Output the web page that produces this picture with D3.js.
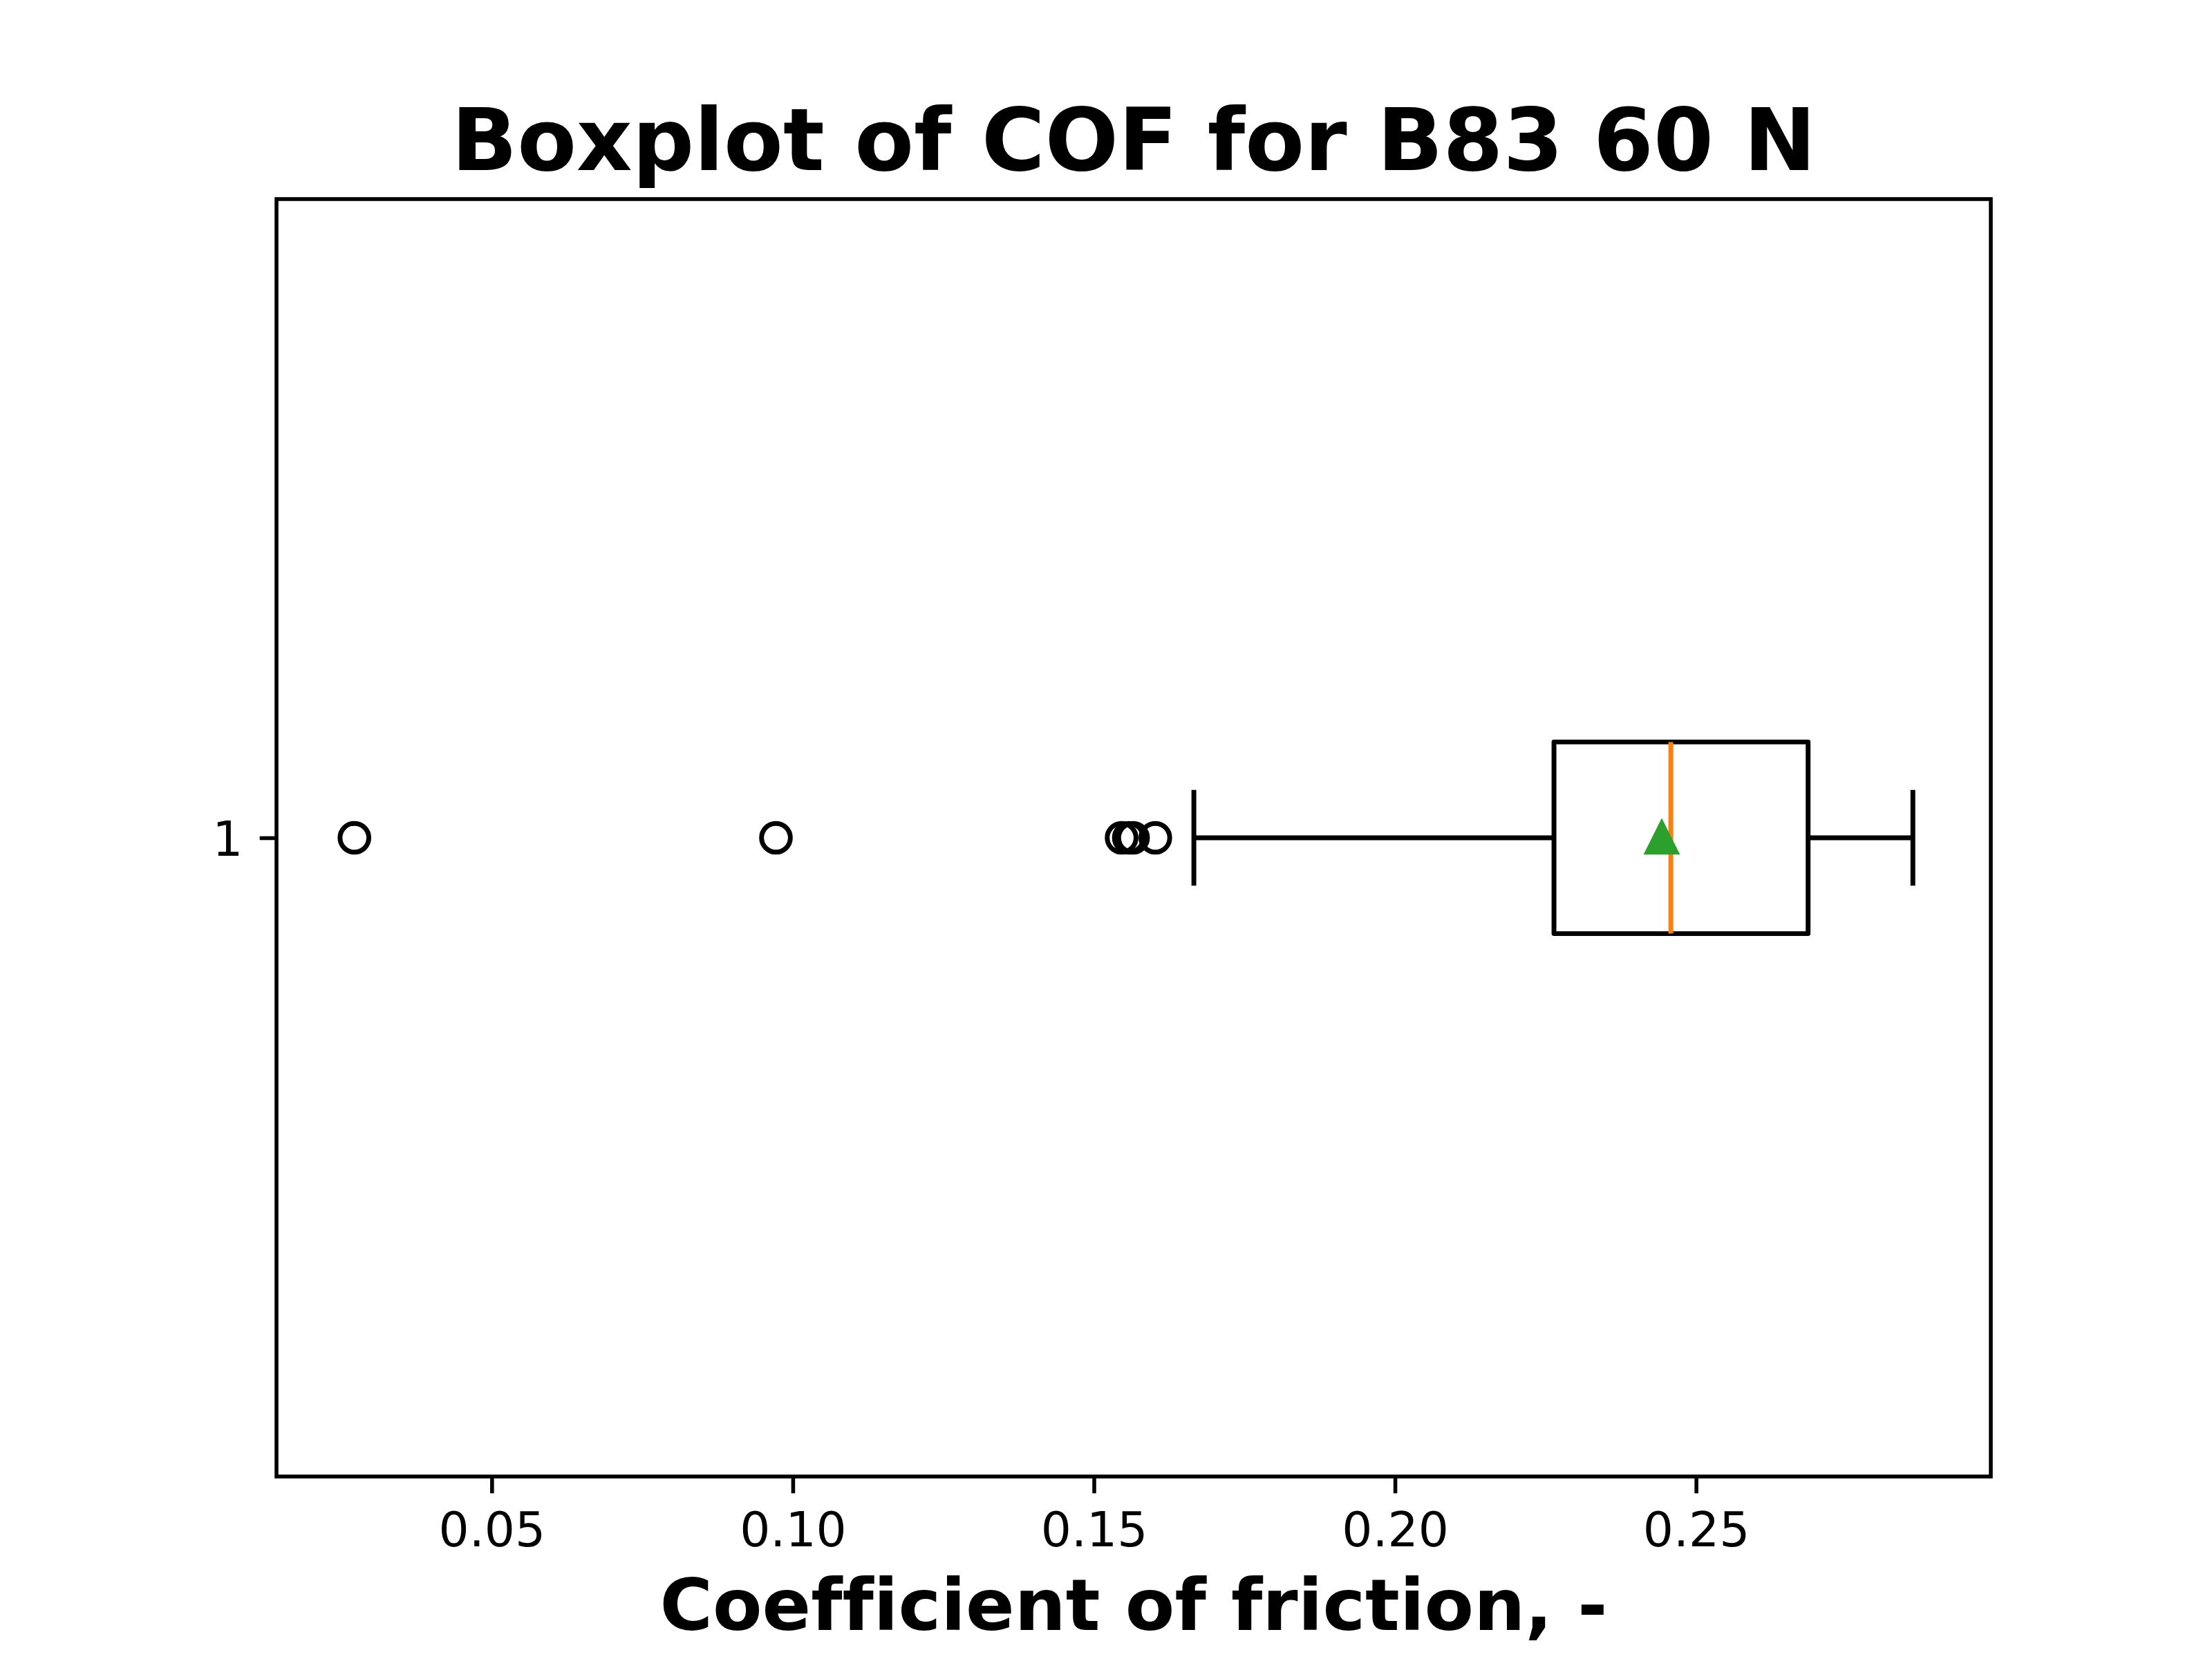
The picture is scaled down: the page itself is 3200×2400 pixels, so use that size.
<!DOCTYPE html>
<html>
<head>
<meta charset="utf-8">
<script src="https://cdn.jsdelivr.net/npm/d3@7"></script>
<style>
  body { margin: 0; background: #fff; }
  text { font-family: "DejaVu Sans", sans-serif; font-variant-ligatures: none; }
</style>
</head>
<body>
<svg id="chart" width="3200" height="2400"></svg>
<script>
// box statistics, one entry per box
var categories = ["1"];
var whiskerLow = [0.1666];
var q1Values = [0.2264];
var medianValues = [0.2458];
var q3Values = [0.2686];
var whiskerHigh = [0.2860];
var meanValues = [0.2443];
var flierValues = [[0.0272, 0.0972, 0.1546, 0.1558, 0.1565, 0.1602]];
var xTickValues = [0.05, 0.10, 0.15, 0.20, 0.25];

var pt = 500 / 72; // figure is 6.4x4.8 in at 500 dpi
var svg = d3.select("#chart");
var plotLeft = 400, plotRight = 2880, plotTop = 288, plotBottom = 2136;

//x limits like matplotlib: data range plus 5% each side
var lo = d3.min([d3.min(whiskerLow), d3.min(flierValues, function(f) { return d3.min(f); })]);
var hi = d3.max([d3.max(whiskerHigh), d3.max(flierValues, function(f) { return d3.max(f); })]);
var pad = (hi - lo) * 0.05;

var x = d3.scaleLinear().domain([lo - pad, hi + pad]).range([plotLeft, plotRight]);
var y = d3.scaleLinear().domain([0.5, categories.length + 0.5]).range([plotBottom, plotTop]);

var boxW = 0.15, capW = 0.075;

svg.append("rect").attr("width", 3200).attr("height", 2400).attr("fill", "#fff");

// axes
var xAxis = svg.append("g")
  .attr("transform", "translate(0," + plotBottom + ")")
  .call(d3.axisBottom(x).tickValues(xTickValues).tickFormat(d3.format(".2f"))
    .tickSize(3.5 * pt).tickPadding(3.5 * pt));
xAxis.select(".domain").remove();
xAxis.selectAll(".tick line").attr("stroke", "#000").attr("stroke-width", 0.8 * pt);
xAxis.selectAll(".tick text").attr("font-size", 10 * pt).attr("fill", "#000")
  .attr("dy", "0.76em").style("font-family", "DejaVu Sans");

var yAxis = svg.append("g")
  .attr("transform", "translate(" + plotLeft + ",0)")
  .call(d3.axisLeft(y).tickValues(categories.map(function(c, i) { return i + 1; }))
    .tickFormat(function(d) { return categories[d - 1]; })
    .tickSize(3.5 * pt).tickPadding(3.5 * pt));
yAxis.select(".domain").remove();
yAxis.selectAll(".tick line").attr("stroke", "#000").attr("stroke-width", 0.8 * pt);
yAxis.selectAll(".tick text").attr("font-size", 10 * pt).attr("fill", "#000")
  .attr("dy", "0.36em").style("font-family", "DejaVu Sans");

// boxes
var lw = 1 * pt;
var g = svg.append("g").attr("fill", "none").attr("stroke-linejoin", "round");

categories.forEach(function(c, i) {
  var p = i + 1;
  //whiskers
  g.append("line").attr("x1", x(q1Values[i])).attr("x2", x(whiskerLow[i]))
    .attr("y1", y(p)).attr("y2", y(p)).attr("stroke", "#000").attr("stroke-width", lw);
  g.append("line").attr("x1", x(q3Values[i])).attr("x2", x(whiskerHigh[i]))
    .attr("y1", y(p)).attr("y2", y(p)).attr("stroke", "#000").attr("stroke-width", lw);
  //caps
  [whiskerLow[i], whiskerHigh[i]].forEach(function(v) {
    g.append("line").attr("x1", x(v)).attr("x2", x(v))
      .attr("y1", y(p - capW / 2)).attr("y2", y(p + capW / 2))
      .attr("stroke", "#000").attr("stroke-width", lw);
  });
  //box
  g.append("rect")
    .attr("x", x(q1Values[i])).attr("width", x(q3Values[i]) - x(q1Values[i]))
    .attr("y", y(p + boxW / 2)).attr("height", y(p - boxW / 2) - y(p + boxW / 2))
    .attr("stroke", "#000").attr("stroke-width", lw);
  //median
  g.append("line").attr("x1", x(medianValues[i])).attr("x2", x(medianValues[i]))
    .attr("y1", y(p - boxW / 2)).attr("y2", y(p + boxW / 2))
    .attr("stroke", "#ff7f0e").attr("stroke-width", lw);
  //fliers
  g.selectAll("circle.flier" + i).data(flierValues[i]).enter().append("circle")
    .attr("cx", function(d) { return x(d); }).attr("cy", y(p))
    .attr("r", 3 * pt).attr("stroke", "#000").attr("stroke-width", lw);
  //mean
  var ms = 3 * pt, mx = x(meanValues[i]), my = y(p);
  g.append("path")
    .attr("d", "M" + mx + "," + (my - ms) + "L" + (mx - ms) + "," + (my + ms) + "L" + (mx + ms) + "," + (my + ms) + "Z")
    .attr("fill", "#2ca02c").attr("stroke", "#2ca02c").attr("stroke-width", lw)
    .attr("stroke-linejoin", "miter");
});

// frame
svg.append("rect").attr("x", plotLeft).attr("y", plotTop)
  .attr("width", plotRight - plotLeft).attr("height", plotBottom - plotTop)
  .attr("fill", "none").attr("stroke", "#000").attr("stroke-width", 0.8 * pt);

// labels
svg.append("text").attr("x", (plotLeft + plotRight) / 2).attr("y", 246)
  .attr("text-anchor", "middle").attr("font-size", 18 * pt).attr("font-weight", "bold")
  .text("Boxplot of COF for B83 60 N");

svg.append("text").attr("x", (plotLeft + plotRight) / 2).attr("y", 2358)
  .attr("text-anchor", "middle").attr("font-size", 15 * pt).attr("font-weight", "bold")
  .text("Coefficient of friction, -");
</script>
</body>
</html>
